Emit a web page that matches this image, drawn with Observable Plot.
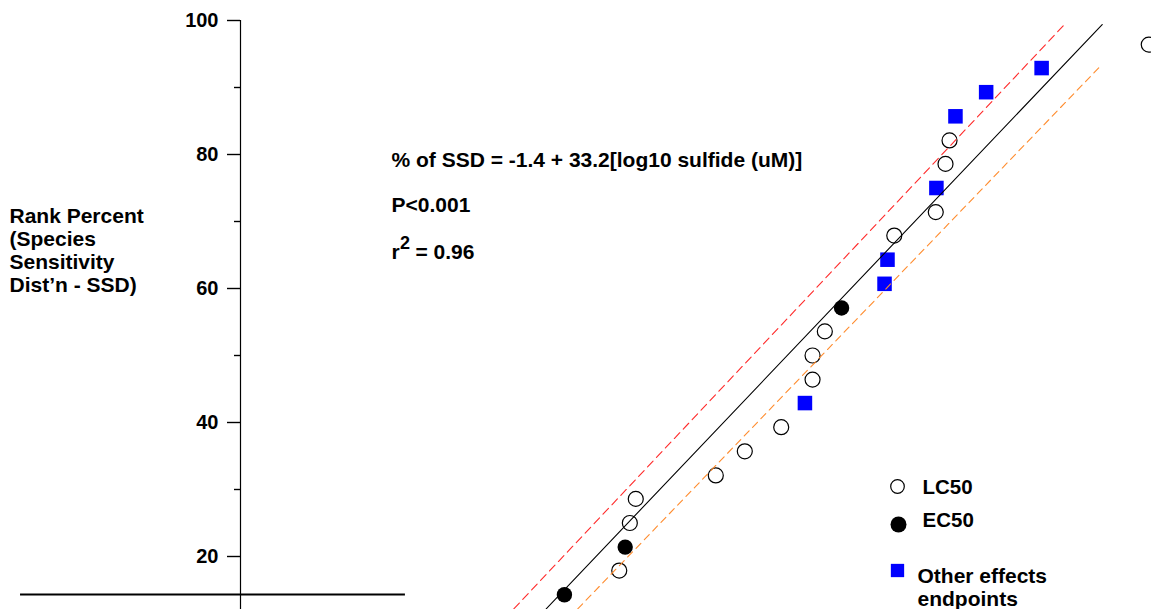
<!DOCTYPE html>
<html><head><meta charset="utf-8">
<script src="https://cdn.jsdelivr.net/npm/d3@7"></script>
<script src="https://cdn.jsdelivr.net/npm/@observablehq/plot@0.6"></script>
<style>
body{margin:0;background:#fff}
#chart{position:relative;width:1151px;height:609px;overflow:hidden}
</style>
</head><body><div id="chart"></div>
<script>
// Rank percent (SSD) of each species endpoint, highest first
const rankPercent = [96.4, 92.9, 89.3, 85.7, 82.1, 78.6, 75.0, 71.4, 67.9, 64.3, 60.7, 57.1,
                     53.6, 50.0, 46.4, 42.9, 39.3, 35.7, 32.1, 28.6, 25.0, 21.4, 17.9, 14.3];
// log10 sulfide (uM)
const log10Sulfide = [3.256, 2.750, 2.488, 2.343, 2.315, 2.296, 2.253, 2.250, 2.054, 2.022, 2.008, 1.805,
                      1.726, 1.668, 1.668, 1.632, 1.520, 1.348, 1.211, 0.833, 0.805, 0.783, 0.755, 0.496];
const endpointType = ["LC50", "Other", "Other", "Other", "LC50", "LC50", "Other", "LC50", "LC50", "Other", "Other", "EC50",
                      "LC50", "LC50", "LC50", "Other", "LC50", "LC50", "LC50", "LC50", "LC50", "EC50", "LC50", "EC50"];

// regression line and its confidence bounds (end points)
const fitX = [0.410, 3.036], fitY = [12.19, 99.40];
const upperX = [0.257, 2.858], upperY = [12.19, 99.40];
const lowerX = [0.559, 3.020], lowerY = [12.19, 92.94];

const yTicks = [20, 40, 60, 80, 100];
const yMinorTicks = [30, 50, 70, 90];
const xDomain = [-1.034, 3.269];
const yDomain = [20, 100];
const yAxisBottom = 12.0;
const baseLineY = 14.33, baseLineX = [-2.073, -0.255];

const pts = rankPercent.map((y, i) => ({y, x: log10Sulfide[i], type: endpointType[i]}));
const line = (xs, ys) => xs.map((x, i) => ({x, y: ys[i]}));

const font = "'Liberation Sans', Arial, Helvetica, sans-serif";
const txt = (s, o) => Plot.text([s], {frameAnchor: "top-left", lineAnchor: "middle", textAnchor: "start", fontWeight: "bold", fill: "black", ...o});

const chart = Plot.plot({
  width: 1151, height: 609,
  marginLeft: 240, marginRight: 0, marginTop: 20, marginBottom: 53,
  style: {fontFamily: font, fontWeight: "bold", fontSize: "20px", background: "white", color: "black", overflow: "visible"},
  x: {domain: xDomain, axis: null},
  y: {domain: yDomain, axis: null},
  marks: [
    Plot.ruleX([xDomain[0]], {y1: 100, y2: yAxisBottom, stroke: "black", strokeWidth: 1.2}),
    Plot.axisY(yTicks, {anchor: "left", tickSize: 13, tickPadding: 9, strokeWidth: 1.4, fontSize: 20, fontWeight: "bold", label: null}),
    Plot.axisY(yMinorTicks, {anchor: "left", tickSize: 6, strokeWidth: 1.4, tickFormat: () => "", label: null}),
    Plot.ruleY([baseLineY], {x1: baseLineX[0], x2: baseLineX[1], stroke: "black", strokeWidth: 2}),
    // points
    Plot.dot(pts.filter(d => d.type === "LC50"), {x: "x", y: "y", r: 7.5, stroke: "black", strokeWidth: 1.2, fill: "none"}),
    Plot.dot(pts.filter(d => d.type === "EC50"), {x: "x", y: "y", r: 7.7, fill: "black", stroke: "none"}),
    Plot.dot(pts.filter(d => d.type === "Other"), {x: "x", y: "y", r: 8.2, symbol: "square", fill: "#0000ff", stroke: "none"}),
    // lines
    Plot.line(line(upperX, upperY), {x: "x", y: "y", stroke: "#ff2a2a", strokeWidth: 1.1, strokeDasharray: "8,5"}),
    Plot.line(line(lowerX, lowerY), {x: "x", y: "y", stroke: "#ff8c2e", strokeWidth: 1.1, strokeDasharray: "7,5"}),
    Plot.line(line(fitX, fitY), {x: "x", y: "y", stroke: "black", strokeWidth: 1.1}),
    // y label
    txt("Rank Percent\n(Species\nSensitivity\nDist’n - SSD)", {dx: -231, dy: 229.5, lineHeight: 1.1, fontSize: 21}),
    // annotations
    txt("% of SSD = -1.4 + 33.2[log10 sulfide (uM)]", {dx: 151, dy: 140, fontSize: 21}),
    txt("P<0.001", {dx: 151, dy: 185, fontSize: 21}),
    txt("r", {dx: 151, dy: 232, fontSize: 21}),
    txt("2", {dx: 159.5, dy: 223, fontSize: 18}),
    txt("= 0.96", {dx: 175, dy: 232, fontSize: 21}),
    // legend
    Plot.dot([0], {frameAnchor: "top-left", dx: 657, dy: 466, r: 6.8, stroke: "black", strokeWidth: 1.2, fill: "none"}),
    Plot.dot([0], {frameAnchor: "top-left", dx: 658, dy: 504, r: 8, fill: "black"}),
    Plot.dot([0], {frameAnchor: "top-left", dx: 657, dy: 550, r: 7.5, symbol: "square", fill: "#0000ff"}),
    txt("LC50", {dx: 682, dy: 467, fontSize: 20.5}),
    txt("EC50", {dx: 682, dy: 500, fontSize: 20.5}),
    txt("Other effects\nendpoints", {dx: 677, dy: 566.5, lineHeight: 1.08, fontSize: 21})
  ]
});
document.getElementById("chart").appendChild(chart);
</script>
</body></html>
